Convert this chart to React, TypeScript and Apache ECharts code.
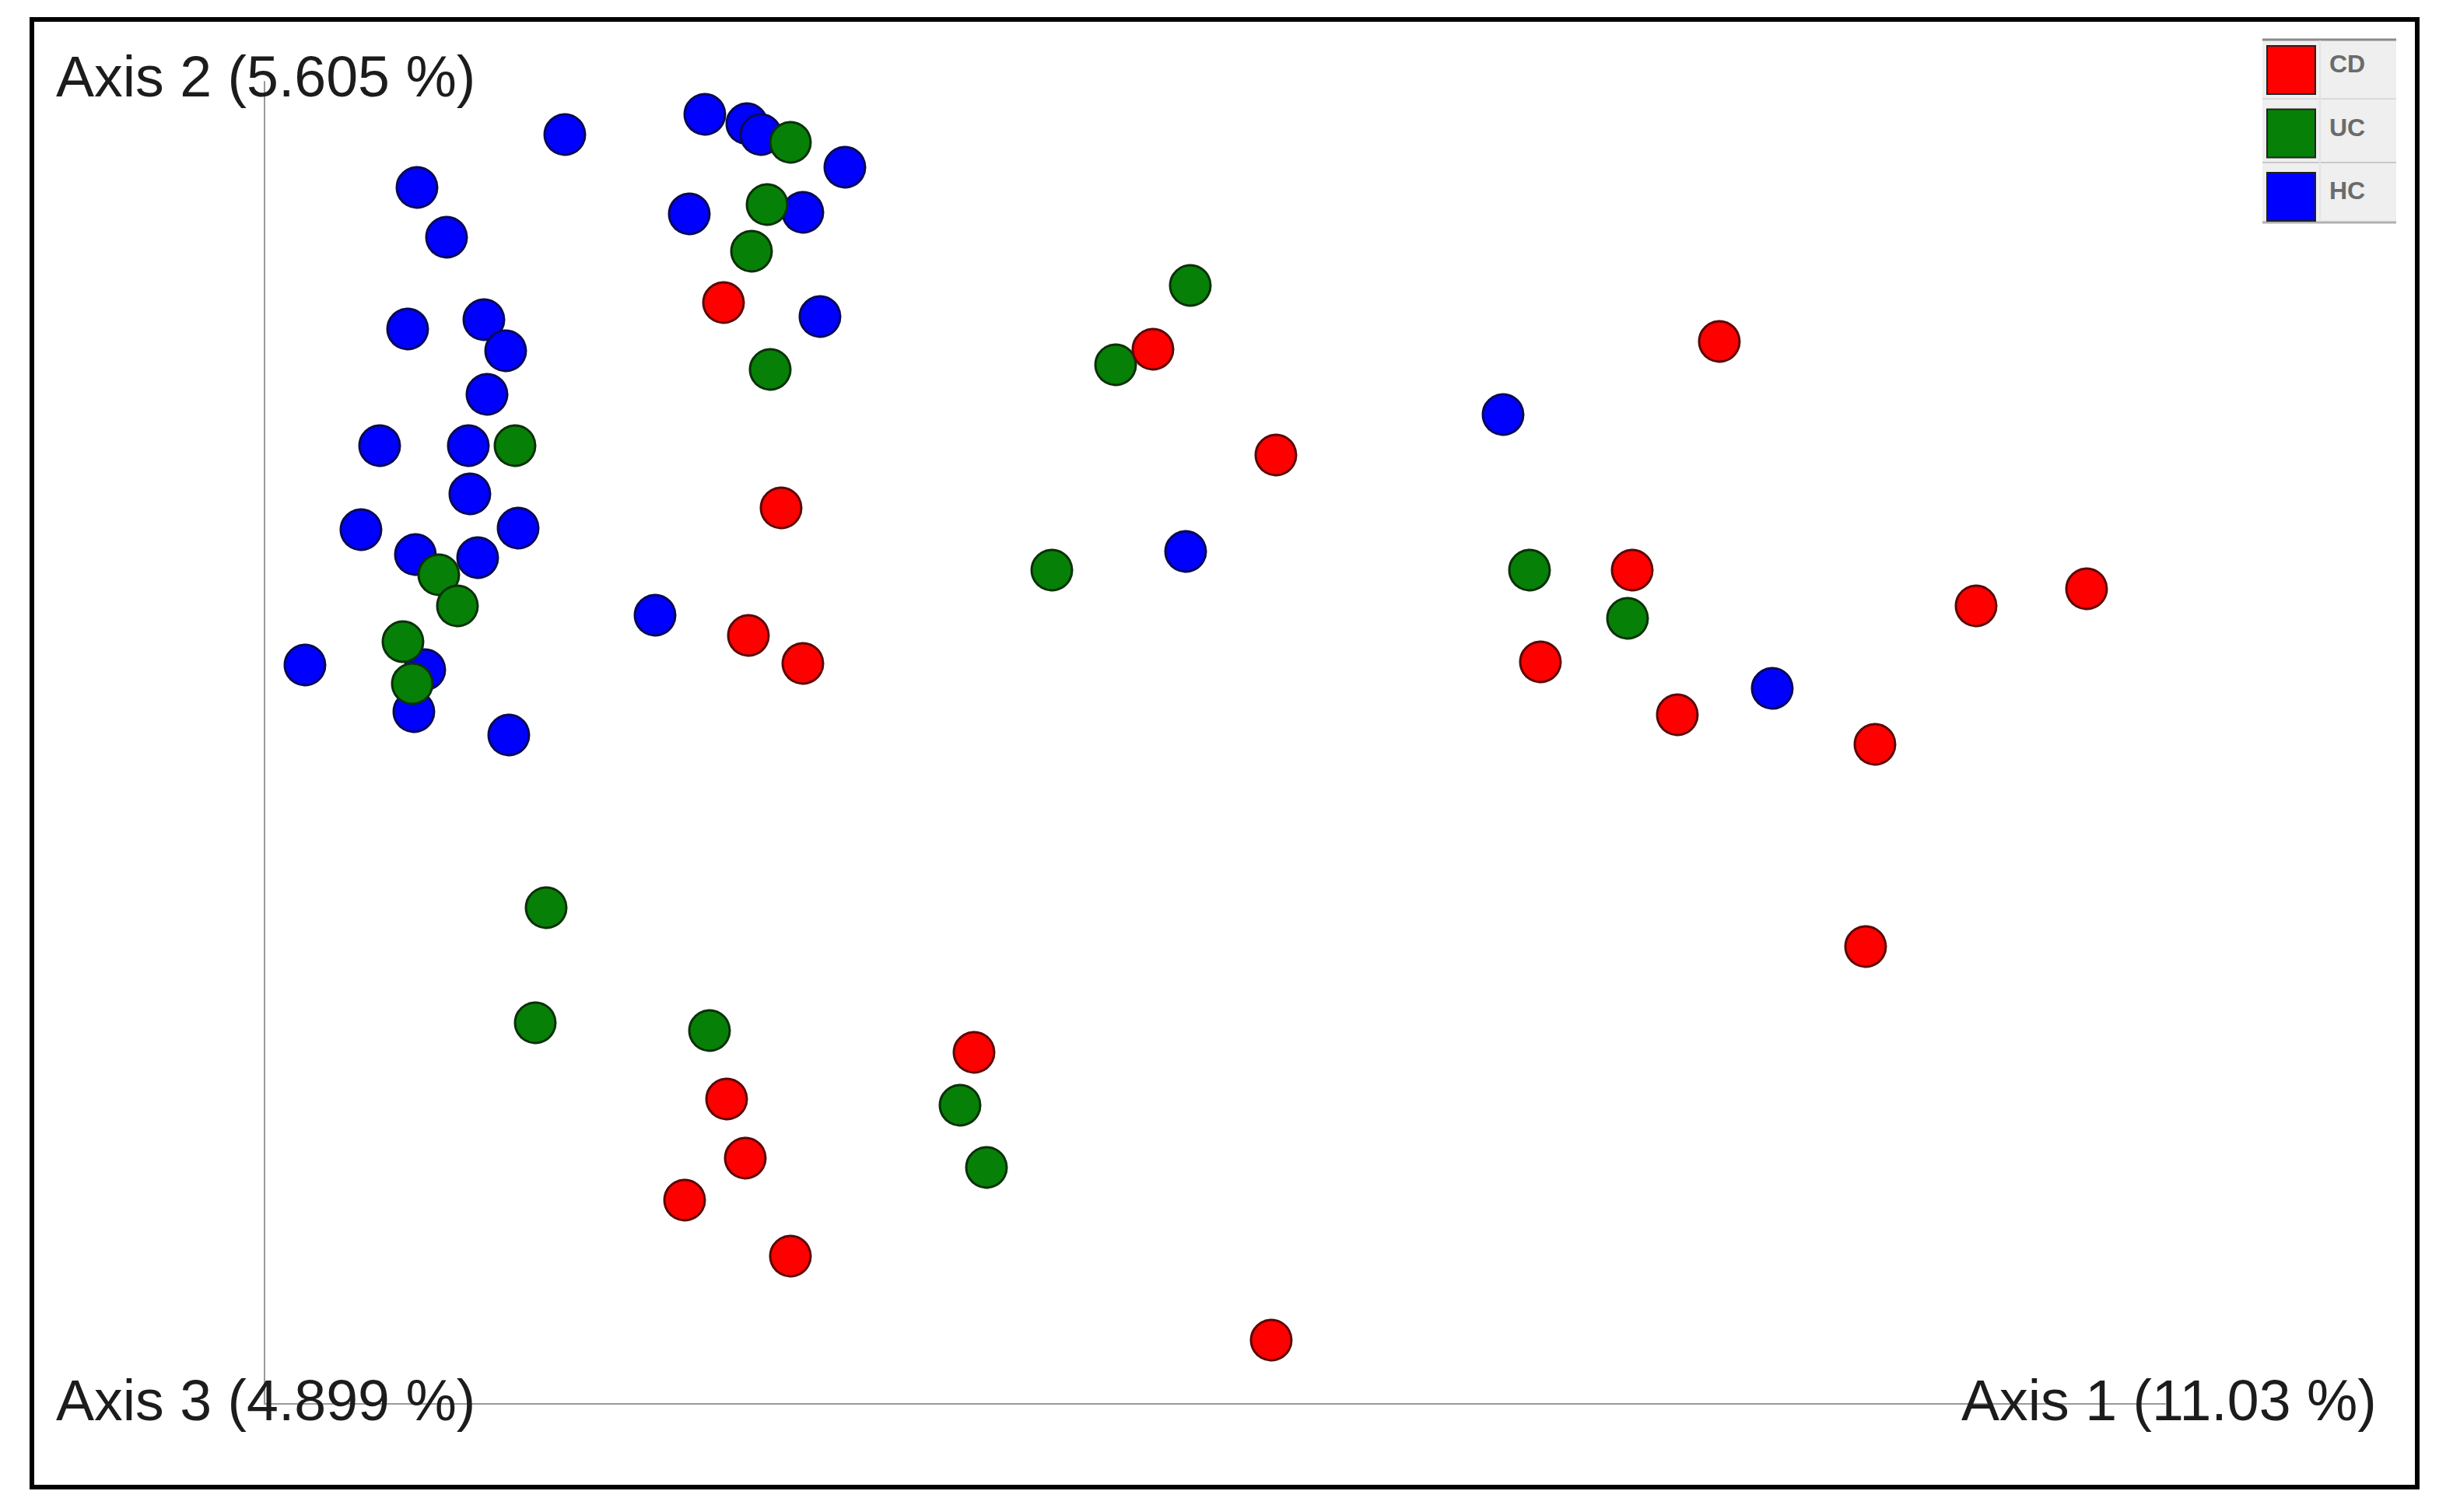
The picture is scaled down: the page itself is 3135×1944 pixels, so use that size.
import React, { useEffect, useRef } from "react";
import * as echarts from "echarts";

// PCoA scores (arbitrary plotting units along Axis 1 / Axis 2)
const seriesNames = ["CD", "UC", "HC"];
const seriesColors = ["#ff0000", "#068006", "#0000ff"];
const seriesBorders = ["#5a0808", "#0b300b", "#0a0a55"];

const hcPoints: number[][] = [
  [19.3, 81.6], [28.3, 82.9], [31.0, 82.3], [31.9, 81.6], [37.3, 79.5],
  [27.3, 76.5], [34.6, 76.6], [35.7, 69.9], [9.8, 78.2], [11.7, 75.0],
  [9.2, 69.1], [14.1, 69.7], [15.5, 67.7], [14.3, 64.9], [7.4, 61.6],
  [13.1, 61.6], [13.2, 58.5], [6.2, 56.2], [16.3, 56.3], [9.7, 54.6],
  [13.7, 54.4], [25.1, 50.7], [2.6, 47.5], [10.3, 47.2], [9.6, 44.5],
  [15.7, 43.0], [79.6, 63.6], [59.2, 54.8], [96.9, 46.0],
];

const ucPoints: number[][] = [
  [33.8, 81.1], [32.3, 77.1], [31.3, 74.1], [32.5, 66.5], [16.1, 61.6],
  [11.2, 53.3], [12.4, 51.3], [8.9, 49.0], [9.5, 46.3], [59.5, 71.9],
  [54.7, 66.8], [50.6, 53.6], [81.3, 53.6], [87.6, 50.5], [18.1, 31.9],
  [17.4, 24.5], [28.6, 24.0], [44.7, 19.2], [46.4, 15.2],
];

const cdPoints: number[][] = [
  [29.5, 70.8], [57.1, 67.8], [33.2, 57.6], [31.1, 49.4], [34.6, 47.6],
  [65.0, 61.0], [93.5, 68.3], [87.9, 53.6], [82.0, 47.7], [90.8, 44.3],
  [110.0, 51.3], [117.1, 52.4], [103.5, 42.4], [102.9, 29.4], [45.6, 22.6],
  [29.7, 19.6], [30.9, 15.8], [27.0, 13.1], [33.8, 9.5], [64.7, 4.1],
];

const axisLabels = ["Axis 1 (11.03 %)", "Axis 2 (5.605 %)", "Axis 3 (4.899 %)"];

const X_MIN = 0;
const X_MAX = 122.15;
const Y_MIN = 0;
const Y_MAX = 85;

export default function App() {
  const ref = useRef<HTMLDivElement>(null);

  useEffect(() => {
    if (!ref.current) return;
    const chart = echarts.init(ref.current, undefined, { renderer: "svg" });
    const font = "'Liberation Sans', Arial, sans-serif";
    const pointsBySeries: Record<string, number[][]> = {
      CD: cdPoints,
      UC: ucPoints,
      HC: hcPoints,
    };
    const drawOrder = ["HC", "UC", "CD"];

    const series = drawOrder.map((name) => {
      const i = seriesNames.indexOf(name);
      return {
        name,
        type: "scatter",
        data: pointsBySeries[name],
        symbol: "circle",
        symbolSize: 52,
        itemStyle: {
          color: seriesColors[i],
          borderColor: seriesBorders[i],
          borderWidth: 3,
          opacity: 1,
        },
        emphasis: { disabled: true },
      };
    });

    const titleStyle = (text: string) => ({
      text,
      font: `73.5px ${font}`,
      fill: "#1c1c1c",
      textVerticalAlign: "middle",
      verticalAlign: "middle",
    });

    const option: any = {
      animation: false,
      backgroundColor: "#ffffff",
      grid: { left: 340, top: 105, width: 2443, height: 1700, containLabel: false },
      xAxis: {
        type: "value",
        min: X_MIN,
        max: X_MAX,
        axisLine: { show: true, onZero: false, lineStyle: { color: "#9a9a9a", width: 2 } },
        axisTick: { show: false },
        axisLabel: { show: false },
        splitLine: { show: false },
      },
      yAxis: {
        type: "value",
        min: Y_MIN,
        max: Y_MAX,
        axisLine: { show: true, onZero: false, lineStyle: { color: "#9a9a9a", width: 2 } },
        axisTick: { show: false },
        axisLabel: { show: false },
        splitLine: { show: false },
      },
      legend: {
        data: seriesNames,
        orient: "vertical",
        left: 2913,
        top: 58,
        padding: 0,
        itemWidth: 62,
        itemHeight: 62,
        itemGap: 17.5,
        icon: "rect",
        selectedMode: false,
        itemStyle: { borderWidth: 2, borderColor: "#222" },
        formatter: "{a|{name}}",
        textStyle: {
          rich: {
            a: {
              fontFamily: font,
              fontSize: 32,
              fontWeight: "bold",
              color: "#6b6b6b",
              padding: [0, 0, 16, 13],
            },
          },
        },
      },
      graphic: [
        // outer frame
        {
          type: "rect",
          shape: { x: 41, y: 25, width: 3066, height: 1887 },
          style: { fill: "none", stroke: "#000", lineWidth: 6 },
          z: 0,
        },
        // legend panel
        {
          type: "rect",
          shape: { x: 2908, y: 50, width: 172, height: 237 },
          style: { fill: "#efefef", stroke: "none" },
          z: -1,
          silent: true,
        },
        {
          type: "line",
          shape: { x1: 2908, y1: 51, x2: 3080, y2: 51 },
          style: { stroke: "#8a8a8a", lineWidth: 3 },
          z: 0,
        },
        {
          type: "line",
          shape: { x1: 2908, y1: 127, x2: 3080, y2: 127 },
          style: { stroke: "#dadada", lineWidth: 2 },
          z: 0,
        },
        {
          type: "line",
          shape: { x1: 2908, y1: 209, x2: 3080, y2: 209 },
          style: { stroke: "#c8c8c8", lineWidth: 2 },
          z: 0,
        },
        {
          type: "line",
          shape: { x1: 2908, y1: 286, x2: 3080, y2: 286 },
          style: { stroke: "#b0b0b0", lineWidth: 3 },
          z: 0,
        },
        {
          type: "line",
          shape: { x1: 2982, y1: 52, x2: 2982, y2: 285 },
          style: { stroke: "#e4e4e4", lineWidth: 2 },
          z: 0,
        },
        // axis titles
        { type: "text", x: 72, y: 98, style: titleStyle(axisLabels[1]), z: 10 },
        { type: "text", x: 72, y: 1800, style: titleStyle(axisLabels[2]), z: 10 },
        { type: "text", x: 2521, y: 1800, style: titleStyle(axisLabels[0]), z: 10 },
      ],
      series,
    };

    chart.setOption(option);
    return () => {
      chart.dispose();
    };
  }, []);

  return (
    <div
      ref={ref}
      style={{ position: "fixed", left: 0, top: 0, width: 3135, height: 1944, background: "#fff" }}
    />
  );
}
